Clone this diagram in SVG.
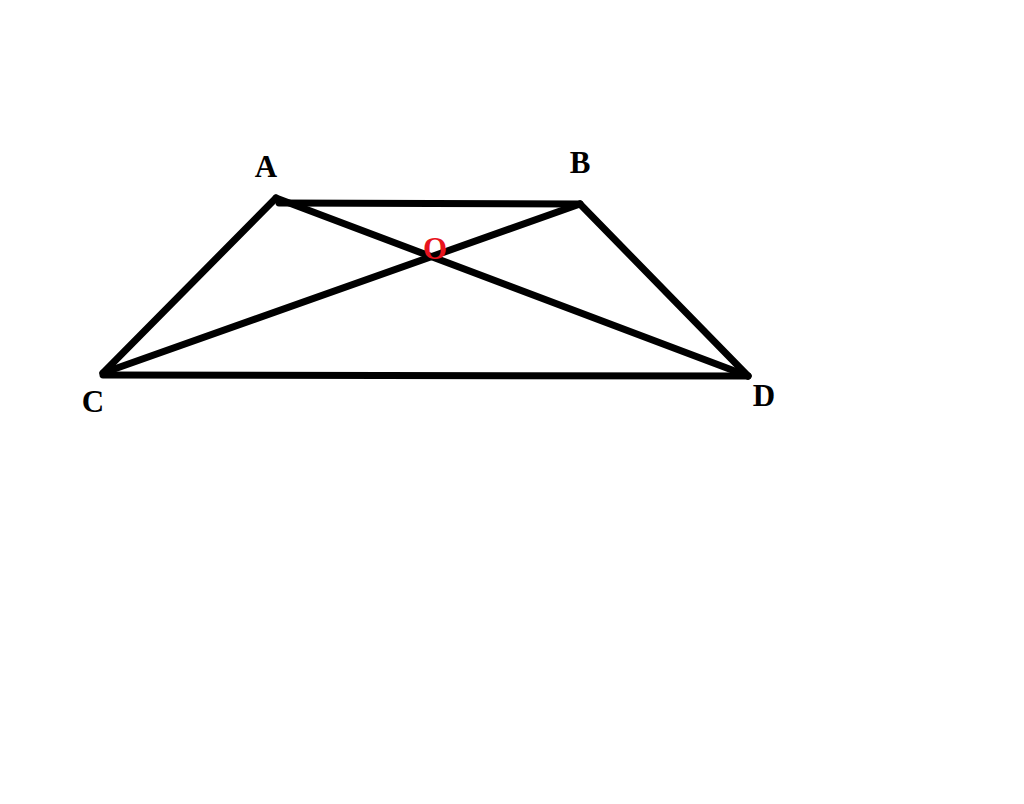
<svg xmlns="http://www.w3.org/2000/svg" width="1024" height="804" viewBox="0 0 1024 804">
<style>
.e{stroke:#000;stroke-width:7;stroke-linecap:round;fill:none}
.l{font-family:"Liberation Serif",serif;font-weight:bold;font-size:31px;fill:#000;text-anchor:middle}
.o{fill:#e8141e}
</style>
<rect width="1024" height="804" fill="#fff"/>
<g id="connectors">
<line class="e" x1="279" y1="203" x2="580" y2="204"/>
<line class="e" x1="580" y1="204" x2="748" y2="376"/>
<line class="e" x1="103" y1="375" x2="748" y2="376"/>
<line class="e" x1="276" y1="198" x2="103" y2="373"/>
<line class="e" x1="276" y1="198" x2="748" y2="376"/>
<line class="e" x1="580" y1="204" x2="103" y2="373"/>
</g>
<g id="A"><text class="l" x="266" y="177">A</text></g>
<g id="B"><text class="l" x="580" y="173">B</text></g>
<g id="C"><text class="l" x="93" y="412">C</text></g>
<g id="D"><text class="l" x="764" y="406">D</text></g>
<g id="O"><text class="l o" x="435" y="259">O</text></g>
</svg>
